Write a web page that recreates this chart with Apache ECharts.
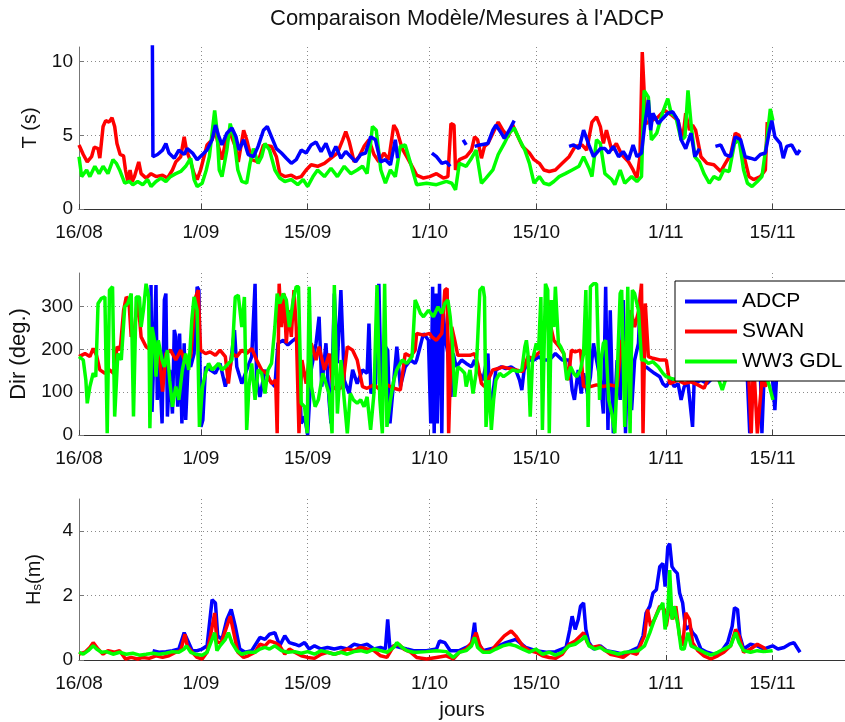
<!DOCTYPE html>
<html><head><meta charset="utf-8">
<script src="https://cdn.jsdelivr.net/npm/echarts@6/dist/echarts.min.js"></script>
<style>html,body{margin:0;padding:0;background:#fff}#c{width:845px;height:722px}</style>
</head><body><div id="c"></div>
<script>
// x = days since 16/08
const dayTicks = [0, 16, 30, 46, 60, 77, 91];
const dayLabels = ['16/08', '1/09', '15/09', '1/10', '15/10', '1/11', '15/11'];
const tTicks = [0, 5, 10];
const dirTicks = [0, 100, 200, 300];
const hsTicks = [0, 2, 4];
const seriesNames = ['ADCP', 'SWAN', 'WW3 GDL'];

// ---- Period T (s)
const tSWAN = [[0,4.35],[0.56,3.7],[1.08,3.2],[1.65,3.55],[2.0,4.2],[2.5,4.1],[2.73,3.45],[3.16,5.6],[3.5,6.0],[3.94,5.9],[4.33,6.2],[4.68,5.6],[4.98,4.45],[5.4,3.7],[5.85,3.6],[6.1,2.65],[6.4,1.87],[6.7,2.65],[6.98,1.87],[7.28,2.2],[7.84,3.2],[8.15,2.4],[8.8,2.1],[9.45,2.4],[10.1,2.2],[10.96,2.3],[11.6,2.1],[12.26,2.65],[12.7,3.2],[13.35,3.55],[13.8,4.9],[14.1,4.0],[14.65,3.2],[15.1,2.4],[15.5,2.0],[15.95,2.65],[16.4,3.55],[16.8,4.35],[17.46,4.7],[17.9,5.35],[18.3,4.25],[18.76,3.35],[19.28,4.7],[19.84,5.15],[20.5,4.25],[20.9,3.2],[21.6,5.35],[22.0,4.7],[22.66,3.35],[23.5,3.2],[24.2,4.35],[25.26,4.25],[25.9,3.55],[26.34,2.4],[27.0,2.2],[27.86,2.3],[28.5,2.1],[29.16,2.2],[29.8,2.65],[30.46,3.0],[31.3,2.9],[32.2,3.1],[33.06,3.45],[33.9,3.8],[34.6,4.7],[35.0,5.25],[35.44,4.6],[36.1,3.2],[36.74,3.55],[37.4,4.25],[38.04,4.7],[38.7,3.7],[39.34,3.2],[40.0,3.8],[40.64,3.35],[41.3,5.7],[41.7,5.35],[42.4,4.1],[43.0,3.55],[43.7,2.9],[44.3,2.3],[45.2,2.1],[46.0,2.2],[46.9,2.4],[47.8,2.1],[48.4,2.2],[48.8,5.8],[49.2,5.7],[49.4,2.65],[49.9,3.35],[50.8,3.55],[51.5,4.0],[51.9,4.9],[52.3,4.7],[52.8,3.45],[53.2,4.25],[53.65,4.45],[54.3,5.15],[55.0,5.9],[55.6,5.35],[56.3,4.9],[56.9,5.7],[57.6,4.9],[58.2,4.25],[59.1,3.8],[59.7,3.35],[60.4,3.1],[61.0,2.65],[61.7,2.55],[62.5,2.65],[63.4,3.1],[64.3,3.55],[65.1,4.25],[66.0,4.35],[66.6,4.0],[67.3,5.9],[67.9,6.25],[68.4,5.6],[68.8,4.45],[69.2,5.35],[69.9,4.0],[70.5,4.45],[71.2,3.7],[72.1,3.2],[72.7,2.65],[73.2,2.1],[73.6,3.55],[73.9,10.65],[74.14,8.05],[74.4,5.8],[75.1,6.0],[76.0,6.25],[76.8,6.7],[77.7,6.4],[78.6,6.0],[79.2,4.7],[79.6,6.5],[80.1,5.35],[80.5,5.7],[80.9,5.35],[81.6,3.55],[82.4,3.1],[83.3,3.0],[84.2,2.55],[84.8,3.1],[85.5,3.7],[86.1,5.15],[86.6,5.0],[87.2,3.7],[87.9,2.2],[88.5,2.0],[89.4,2.2],[90.05,2.65],[90.3,5.9]];
const tWW3 = [[0,3.55],[0.35,2.2],[1.0,2.65],[1.43,2.2],[2.08,2.9],[2.64,2.4],[3.16,2.9],[3.8,2.4],[4.46,3.35],[4.9,3.1],[5.33,2.65],[6.0,1.75],[6.63,1.87],[7.06,1.65],[7.7,1.87],[8.36,1.65],[9.0,2.0],[9.45,1.53],[10.1,1.87],[10.75,2.1],[11.4,1.87],[12.0,2.2],[12.7,2.4],[13.35,2.55],[14.0,2.9],[14.65,3.45],[15.1,2.0],[15.5,1.53],[16.16,1.75],[16.7,2.65],[17.1,3.55],[17.8,6.7],[18.1,5.35],[18.4,2.65],[18.76,2.2],[19.4,4.0],[19.84,5.8],[20.3,4.9],[20.84,2.65],[21.36,1.87],[22.0,1.75],[22.44,3.1],[22.88,4.1],[23.5,3.1],[23.96,3.55],[24.4,4.45],[25.0,4.0],[25.7,2.65],[26.34,2.1],[27.0,1.87],[27.86,2.0],[28.7,1.65],[29.4,2.0],[30.0,1.53],[30.7,2.2],[31.3,2.65],[32.2,2.2],[33.06,2.77],[33.9,2.2],[34.8,2.9],[35.66,2.4],[36.5,2.65],[37.2,2.9],[37.8,2.4],[38.5,5.6],[39.0,5.35],[39.6,2.65],[40.2,1.75],[40.86,2.65],[41.5,2.2],[42.16,4.25],[42.8,4.35],[43.5,3.1],[44.3,1.65],[45.6,1.75],[46.9,1.65],[48.2,1.87],[48.9,1.75],[49.4,1.3],[49.9,3.1],[50.8,2.9],[51.5,3.45],[52.1,4.0],[52.8,1.75],[53.4,2.1],[54.3,2.65],[55.0,3.7],[55.8,4.45],[56.45,5.15],[57.1,5.5],[57.8,4.7],[58.5,4.0],[59.1,3.1],[59.7,1.75],[60.4,2.2],[61.0,1.75],[61.7,1.65],[62.3,1.87],[63.0,2.2],[63.8,2.4],[64.7,2.65],[65.6,2.9],[66.2,3.55],[66.9,2.77],[67.3,2.2],[67.9,4.7],[68.4,4.45],[69.0,2.4],[69.9,2.0],[70.3,1.65],[71.0,2.65],[71.6,1.75],[72.5,2.2],[73.2,1.87],[73.8,2.2],[74.14,8.05],[74.7,7.6],[75.1,4.7],[75.8,5.15],[76.6,6.6],[77.25,7.5],[77.7,6.5],[78.3,6.25],[79.0,4.7],[79.5,4.9],[79.9,8.05],[80.3,5.8],[80.8,3.55],[81.4,3.2],[82.0,2.4],[82.7,1.75],[83.3,2.2],[84.0,2.0],[84.6,2.65],[85.3,2.55],[86.0,4.45],[86.6,4.7],[87.2,2.65],[87.7,1.75],[88.3,1.53],[89.0,1.87],[89.6,2.2],[90.2,4.45],[90.7,6.8],[91.05,6.0]];
const tADCP = [[9.62,12],[9.7,3.55],[10.3,3.7],[10.96,4.0],[11.4,4.45],[11.8,3.8],[12.5,3.45],[13.1,4.0],[13.8,3.7],[14.2,4.1],[14.9,3.8],[15.5,3.35],[16.2,3.7],[16.8,4.0],[17.46,4.7],[17.9,5.7],[18.3,5.0],[18.76,4.35],[19.4,5.15],[20.06,5.5],[20.6,4.9],[21.0,4.0],[21.6,4.7],[22.2,3.7],[22.9,3.55],[23.5,4.25],[24.2,5.35],[24.7,5.6],[25.26,4.9],[25.9,4.1],[26.56,3.8],[27.2,3.45],[27.86,3.1],[28.5,3.35],[29.16,4.0],[29.8,3.8],[30.46,4.35],[31.1,4.55],[31.76,3.9],[32.4,4.45],[33.06,3.55],[33.7,4.25],[34.36,3.45],[35.0,3.9],[35.66,3.55],[36.3,3.2],[36.96,3.7],[37.6,3.8],[38.26,4.9],[38.9,4.7],[39.56,3.2],[40.2,3.35],[40.86,3.0],[41.5,4.7],[41.8,3.45],[42.0,null],[46.3,3.8],[46.9,3.55],[47.6,3.1],[48.2,3.2],[48.7,2.9],[49.0,null],[50.4,4.7],[50.8,4.35],[51.2,null],[51.9,4.25],[52.6,4.35],[53.65,4.45],[54.3,5.35],[54.7,5.7],[55.4,5.15],[55.8,4.8],[56.45,5.35],[57.1,6.0],[57.4,null],[64.3,4.25],[64.9,4.35],[65.6,4.1],[66.2,5.35],[66.9,4.35],[67.5,3.55],[68.4,4.1],[69.0,4.1],[69.5,3.8],[70.1,4.25],[70.8,3.55],[71.4,3.9],[72.1,3.35],[72.7,4.35],[73.2,3.55],[73.8,3.8],[74.2,5.6],[74.7,7.4],[75.0,5.35],[75.3,6.5],[76.0,5.8],[76.6,6.15],[77.25,6.5],[77.9,6.6],[78.6,6.0],[79.0,4.7],[79.6,4.1],[80.3,5.15],[80.8,3.55],[81.4,4.1],[81.8,null],[83.5,4.25],[84.2,4.35],[84.8,3.7],[85.5,3.55],[86.1,4.9],[86.8,4.7],[87.4,3.55],[88.1,3.45],[88.7,3.35],[89.4,3.7],[90.05,3.8],[90.6,5.35],[90.9,6.0],[91.3,4.9],[92.0,4.45],[92.4,3.45],[92.85,4.25],[93.5,4.35],[94.2,3.7],[94.6,4.0]];

// ---- Direction (deg.)
const dirWW3 = [[0,183],[0.56,175],[0.9,128],[1.08,74],[1.43,113],[1.86,144],[2.2,136],[2.5,307],[2.95,319],[3.4,322],[3.7,4],[4.0,338],[4.4,346],[4.68,43],[5.1,190],[5.55,175],[6.0,299],[6.4,307],[6.85,330],[7.15,43],[7.5,322],[7.93,322],[8.15,252],[8.45,291],[8.8,353],[9.14,322],[9.3,16],[9.58,252],[9.9,221],[10.1,136],[10.4,221],[10.9,175],[11.2,159],[11.6,198],[11.9,128],[12.26,66],[12.7,113],[13.1,82],[13.56,152],[14.0,190],[14.4,152],[14.8,268],[15.1,322],[15.5,291],[15.8,19],[16.2,113],[16.6,144],[17.0,167],[17.46,152],[17.9,159],[18.3,167],[18.76,152],[19.2,159],[19.6,167],[20.06,175],[20.5,322],[20.9,326],[21.36,252],[21.7,322],[22.0,12],[22.3,113],[22.66,167],[23.1,82],[23.5,152],[23.96,144],[24.4,97],[24.8,152],[25.26,167],[25.7,252],[26.0,330],[26.34,307],[26.8,330],[27.2,315],[27.6,252],[28.1,315],[28.5,346],[28.8,346],[29.16,74],[29.6,66],[29.94,4],[30.2,346],[30.5,113],[30.98,66],[31.4,82],[31.98,144],[32.4,120],[32.8,97],[33.2,4],[33.5,350],[33.9,50],[34.36,175],[34.8,82],[35.2,4],[35.6,97],[36.0,82],[36.5,74],[36.96,82],[37.4,66],[37.8,89],[38.26,12],[38.7,97],[39.1,350],[39.47,82],[39.8,4],[40.1,353],[40.4,19],[40.86,82],[41.3,128],[41.7,152],[42.4,175],[43.0,167],[43.7,183],[44.1,315],[44.3,307],[44.8,284],[45.2,276],[45.85,291],[46.5,276],[47.1,299],[47.6,284],[48.0,307],[48.4,315],[48.7,276],[49.0,214],[49.3,89],[49.7,159],[50.2,152],[50.6,144],[50.8,113],[51.3,152],[51.7,97],[52.1,144],[52.6,338],[53.0,346],[53.2,322],[53.4,19],[53.8,128],[54.1,12],[54.4,82],[54.7,128],[55.2,144],[55.7,136],[56.3,144],[56.9,152],[57.6,148],[58.1,152],[58.5,206],[58.7,221],[58.9,190],[59.2,43],[59.5,175],[60.0,214],[60.3,198],[60.6,322],[60.8,12],[61.2,353],[61.5,338],[61.7,4],[62.0,315],[62.3,252],[62.5,346],[62.9,214],[63.2,206],[63.6,190],[64.0,128],[64.5,159],[64.9,144],[65.3,136],[65.8,152],[66.2,190],[66.5,338],[66.8,19],[67.1,346],[67.5,353],[67.9,353],[68.3,82],[68.5,175],[68.8,214],[69.1,221],[69.5,82],[69.9,50],[70.3,4],[70.6,136],[71.0,330],[71.2,338],[71.6,19],[72.0,346],[72.3,4],[72.6,338],[72.9,330],[73.4,291],[73.8,175],[74.2,175],[74.7,167],[75.3,171],[76.0,159],[76.6,144],[77.05,136],[77.7,132],[78.6,128],[79.4,136],[80.3,144],[81.2,152],[82.0,152],[82.9,144],[83.8,136],[84.4,105],[84.8,128],[85.7,152],[86.6,159],[87.4,152],[88.3,144],[89.2,152],[90.05,144],[90.6,113],[91.05,82]];
const dirSWAN = [[0,183],[0.78,190],[1.43,183],[1.86,202],[2.3,186],[2.73,152],[3.4,144],[4.0,152],[4.55,144],[5.0,206],[5.4,198],[5.85,291],[6.2,322],[6.54,315],[6.85,229],[7.28,245],[7.7,322],[8.15,229],[8.8,206],[9.45,198],[10.1,214],[10.6,175],[10.96,101],[11.4,190],[12.0,198],[12.7,175],[13.35,198],[14.0,167],[14.65,183],[15.3,322],[15.64,338],[15.95,198],[16.6,190],[17.2,194],[17.9,186],[18.5,198],[19.2,183],[19.6,120],[20.06,190],[20.7,183],[21.36,198],[22.0,190],[22.66,202],[23.3,175],[23.96,152],[24.6,144],[25.26,120],[25.8,128],[26.0,4],[26.26,353],[26.56,252],[26.9,330],[27.2,214],[27.5,291],[27.86,229],[28.2,338],[28.5,252],[28.86,4],[29.25,175],[29.8,120],[30.46,214],[31.1,175],[31.5,206],[32.2,152],[32.84,190],[33.3,113],[33.9,105],[34.6,113],[35.2,206],[35.9,198],[36.5,175],[37.2,113],[37.8,109],[38.7,117],[39.56,105],[40.4,117],[41.3,109],[42.16,105],[42.8,190],[43.5,183],[44.1,198],[44.3,237],[45.2,233],[46.0,237],[46.3,229],[46.9,221],[47.6,237],[48.0,338],[48.3,342],[48.5,4],[48.9,252],[49.3,221],[49.7,186],[50.4,186],[51.3,186],[51.9,190],[52.3,167],[52.8,120],[53.2,113],[53.65,128],[54.3,152],[55.0,155],[55.6,159],[56.45,155],[57.3,152],[58.2,148],[58.9,183],[59.5,179],[60.2,190],[60.8,198],[61.5,315],[61.9,252],[62.3,221],[63.0,206],[63.6,190],[64.2,128],[64.6,198],[65.1,194],[65.8,198],[66.2,113],[67.1,113],[67.9,117],[68.8,113],[69.7,117],[70.6,113],[71.2,221],[71.9,206],[72.4,291],[72.9,252],[73.45,291],[73.8,353],[74.0,4],[74.3,307],[74.7,183],[75.3,179],[76.2,175],[77.05,175],[77.5,120],[78.6,128],[79.4,120],[80.3,124],[81.2,117],[82.0,109],[82.9,144],[84.2,152],[85.5,152],[86.8,144],[87.9,128],[88.2,4],[88.5,175],[89.0,4],[89.6,128],[90.05,113],[90.4,136]];
const dirADCP = [[9.45,350],[9.58,54],[9.8,175],[10.1,350],[10.27,82],[10.53,175],[10.9,27],[11.2,315],[11.4,330],[11.6,43],[11.9,152],[12.26,50],[12.5,245],[12.7,229],[12.95,66],[13.2,237],[13.5,27],[13.8,214],[14.0,35],[14.34,175],[14.65,159],[15.1,190],[15.5,346],[15.73,338],[16.0,19],[16.25,35],[16.6,159],[17.2,152],[17.9,144],[18.5,167],[19.2,113],[19.84,159],[20.4,245],[20.7,159],[21.36,120],[22.0,152],[22.66,183],[23.1,353],[23.3,128],[23.74,89],[24.4,152],[25.0,128],[25.7,113],[26.1,214],[26.8,221],[27.4,210],[28.1,221],[28.7,229],[29.16,27],[29.6,43],[30.0,0],[30.46,152],[31.1,214],[31.5,276],[31.85,113],[32.4,214],[32.8,82],[33.06,27],[33.5,330],[33.9,167],[34.36,338],[34.8,128],[35.44,97],[35.9,152],[36.5,120],[37.2,152],[37.8,144],[38.04,260],[38.3,97],[38.9,120],[39.34,353],[39.65,97],[40.2,206],[40.5,198],[40.8,27],[41.3,128],[41.7,206],[42.16,113],[42.8,159],[43.5,175],[44.1,167],[44.3,175],[45.2,237],[45.85,221],[46.15,27],[46.4,346],[46.6,4],[46.85,330],[47.0,27],[47.3,353],[47.6,4],[47.8,284],[48.1,221],[48.4,190],[48.8,89],[49.1,190],[49.5,159],[50.2,175],[50.8,167],[51.5,159],[51.9,175],[52.3,152],[53.0,128],[53.65,190],[53.95,58],[54.3,97],[54.7,152],[55.4,159],[56.0,155],[56.7,159],[57.3,152],[57.8,128],[58.1,105],[58.4,152],[59.1,175],[59.7,175],[60.4,183],[60.8,175],[61.7,175],[62.5,190],[63.4,175],[64.3,175],[64.7,105],[65.0,82],[65.5,152],[65.9,97],[66.2,144],[66.7,97],[67.1,136],[67.5,214],[67.9,175],[68.4,128],[68.8,50],[69.1,346],[69.4,12],[69.7,291],[70.1,4],[70.6,175],[71.0,82],[71.4,315],[71.7,4],[72.1,252],[72.5,58],[72.9,175],[73.4,214],[73.7,338],[74.0,152],[74.4,159],[74.9,152],[75.5,144],[76.2,136],[76.6,120],[77.05,113],[77.6,128],[78.1,113],[78.6,120],[79.0,82],[79.4,113],[79.9,120],[80.5,19],[80.7,120],[81.6,128],[82.4,120],[83.3,136],[84.2,144],[85.1,136],[85.9,144],[86.8,136],[87.7,128],[88.0,4],[88.5,128],[89.4,144],[89.6,4],[89.9,144],[90.5,175],[90.9,152],[91.3,58],[91.5,128]];

// ---- Significant wave height Hs (m)
const hsWW3 = [[0,0.24],[0.56,0.18],[1.2,0.29],[1.86,0.44],[2.3,0.34],[2.95,0.24],[3.6,0.26],[4.46,0.18],[5.33,0.24],[6.2,0.18],[7.06,0.21],[7.93,0.15],[8.8,0.18],[9.66,0.21],[10.5,0.18],[11.4,0.21],[12.26,0.26],[13.1,0.24],[13.8,0.34],[14.1,0.44],[14.65,0.24],[15.3,0.18],[16.16,0.15],[16.8,0.24],[17.46,0.64],[17.8,0.85],[18.1,0.29],[18.5,0.44],[19.2,0.64],[19.6,0.85],[20.06,0.54],[20.7,0.29],[21.36,0.18],[22.2,0.24],[23.1,0.24],[23.74,0.34],[24.4,0.39],[25.0,0.34],[25.7,0.44],[26.56,0.29],[27.4,0.24],[28.3,0.26],[29.16,0.21],[30.0,0.26],[30.9,0.18],[31.76,0.29],[32.6,0.24],[33.5,0.18],[34.36,0.24],[35.2,0.18],[36.1,0.26],[36.96,0.29],[37.8,0.24],[38.7,0.34],[39.56,0.29],[40.4,0.24],[41.3,0.39],[41.7,0.54],[42.4,0.39],[43.0,0.29],[43.9,0.24],[44.3,0.24],[45.6,0.26],[46.9,0.29],[48.2,0.26],[49.1,0.08],[49.9,0.24],[50.8,0.29],[51.5,0.44],[51.9,0.7],[52.3,0.39],[53.0,0.24],[53.9,0.24],[54.7,0.34],[55.6,0.44],[56.45,0.49],[57.3,0.44],[58.2,0.34],[59.1,0.24],[59.95,0.34],[60.8,0.18],[61.7,0.24],[62.5,0.15],[63.4,0.24],[64.3,0.44],[65.1,0.49],[66.0,0.64],[66.4,0.75],[66.9,0.44],[67.7,0.34],[68.4,0.39],[69.0,0.29],[69.9,0.24],[70.8,0.18],[71.6,0.24],[72.5,0.26],[73.4,0.29],[74.2,0.44],[74.9,0.85],[75.5,1.26],[76.2,1.62],[76.6,1.77],[76.9,0.95],[77.25,1.46],[77.5,2.79],[77.8,1.26],[78.1,1.67],[78.6,1.05],[79.0,0.34],[79.4,0.34],[79.9,0.85],[80.3,0.44],[81.2,0.34],[82.0,0.24],[82.9,0.15],[83.8,0.24],[84.6,0.34],[85.5,0.44],[86.15,0.85],[86.6,0.54],[87.2,0.29],[88.1,0.24],[89.0,0.29],[89.8,0.26],[91.0,0.29]];
const hsSWAN = [[0,0.18],[0.78,0.24],[1.43,0.39],[1.86,0.54],[2.5,0.34],[3.16,0.18],[3.8,0.29],[4.68,0.24],[5.33,0.29],[6.1,0.03],[6.85,0.08],[7.7,0.03],[8.36,0.08],[9.2,0.05],[10.1,0.13],[10.96,0.08],[11.8,0.13],[12.7,0.24],[13.35,0.29],[13.9,0.8],[14.2,0.44],[14.86,0.24],[15.5,0.08],[16.16,0.03],[16.8,0.24],[17.25,0.75],[17.8,1.46],[18.1,0.54],[18.67,0.54],[19.4,1.05],[19.84,1.36],[20.3,0.85],[20.84,0.24],[21.6,0.08],[22.2,0.13],[23.1,0.24],[23.74,0.49],[24.4,0.44],[25.0,0.59],[25.7,0.54],[26.34,0.44],[27.0,0.18],[27.6,0.34],[28.3,0.24],[29.16,0.13],[30.0,0.08],[30.9,0.05],[31.76,0.18],[32.6,0.24],[33.5,0.18],[34.36,0.24],[35.2,0.34],[36.1,0.29],[36.96,0.39],[37.8,0.34],[38.7,0.29],[39.56,0.13],[40.4,0.08],[41.3,0.44],[41.95,0.49],[42.6,0.34],[43.5,0.24],[44.3,0.08],[45.6,0.03],[46.9,0.08],[48.2,0.13],[49.1,0.03],[49.9,0.24],[50.8,0.34],[51.5,0.54],[52.1,0.85],[52.6,0.44],[53.2,0.24],[54.1,0.29],[55.0,0.54],[55.8,0.75],[56.7,0.9],[57.3,0.75],[58.2,0.44],[59.1,0.29],[59.95,0.24],[60.8,0.13],[61.7,0.08],[62.5,0.05],[63.4,0.18],[64.3,0.49],[65.1,0.59],[65.8,0.75],[66.2,0.85],[66.7,0.54],[67.3,0.39],[68.2,0.44],[68.8,0.34],[69.7,0.18],[70.6,0.13],[71.4,0.08],[72.3,0.24],[73.2,0.18],[73.8,0.54],[74.2,0.75],[74.6,1.57],[75.0,1.05],[75.5,1.26],[76.2,1.67],[76.8,1.57],[77.05,1.05],[77.5,1.67],[77.9,1.26],[78.3,1.67],[78.8,0.75],[79.2,0.44],[79.6,1.46],[80.1,1.26],[80.5,0.54],[81.2,0.29],[82.0,0.13],[82.9,0.03],[83.8,0.13],[84.6,0.24],[85.5,0.44],[86.15,0.95],[86.6,0.75],[87.2,0.24],[88.1,0.34],[89.0,0.49],[89.8,0.39],[90.3,0.24]];
const hsADCP = [[9.66,0.29],[10.5,0.24],[11.4,0.26],[12.26,0.29],[13.1,0.34],[13.8,0.85],[14.2,0.64],[14.86,0.29],[15.5,0.29],[16.16,0.34],[16.8,0.44],[17.46,1.87],[17.9,1.77],[18.2,0.75],[18.76,0.64],[19.4,1.26],[19.97,1.57],[20.5,1.05],[21.1,0.34],[21.8,0.24],[22.66,0.29],[23.74,0.7],[24.4,0.64],[25.0,0.8],[25.7,0.85],[26.34,0.44],[27.0,0.75],[27.6,0.54],[28.3,0.49],[28.9,0.44],[29.6,0.54],[30.2,0.34],[30.9,0.44],[31.76,0.34],[32.6,0.39],[33.5,0.34],[34.36,0.39],[35.2,0.34],[36.1,0.49],[36.96,0.44],[37.8,0.49],[38.7,0.34],[39.56,0.39],[40.2,0.34],[40.5,1.26],[40.8,0.34],[41.3,0.44],[42.16,0.39],[43.0,0.34],[43.9,0.29],[44.3,0.29],[45.6,0.29],[46.9,0.34],[47.3,0.59],[48.0,0.54],[48.7,0.29],[49.9,0.29],[50.8,0.39],[51.5,0.49],[51.9,1.16],[52.1,0.64],[53.0,0.29],[54.7,0.39],[56.0,0.54],[57.3,0.64],[58.6,0.39],[59.95,0.29],[61.3,0.24],[62.5,0.26],[63.9,0.39],[64.4,0.95],[64.7,1.36],[65.1,0.95],[65.5,1.26],[65.8,1.67],[66.2,1.77],[66.5,0.95],[66.9,0.54],[67.5,0.34],[68.4,0.44],[69.2,0.29],[70.3,0.24],[71.4,0.18],[72.5,0.29],[73.4,0.39],[74.0,0.75],[74.4,1.46],[74.9,1.67],[75.3,2.08],[75.75,2.18],[76.2,2.9],[76.6,3.0],[76.9,2.28],[77.25,3.51],[77.5,3.61],[77.8,2.9],[78.1,2.79],[78.5,2.69],[78.8,2.08],[79.2,1.77],[79.6,0.95],[80.1,1.05],[80.5,0.85],[80.9,0.75],[81.6,0.34],[82.4,0.24],[83.3,0.18],[84.2,0.24],[85.1,0.54],[85.7,1.05],[86.0,1.62],[86.4,1.57],[86.7,0.75],[87.2,0.34],[88.1,0.49],[89.0,0.44],[89.8,0.34],[91.0,0.44],[91.7,0.34],[92.5,0.39],[93.2,0.49],[93.8,0.54],[94.2,0.39],[94.6,0.24]];

const FONT = '"Liberation Sans", Arial, Helvetica, sans-serif';
const COLORS = {'ADCP': '#0000ff', 'SWAN': '#ff0000', 'WW3 GDL': '#00ff00'};
const GRID_DOT = {type: [1, 3], color: '#8a8a8a', width: 1};

function xAx(i) {
  return {
    type: 'value', gridIndex: i, min: 0, max: 100.5,
    axisLine: {show: true, lineStyle: {color: '#333', width: 1}},
    axisTick: {show: true, inside: true, length: 5, customValues: dayTicks, lineStyle: {color: '#444'}},
    axisLabel: {customValues: dayTicks, fontSize: 19, color: '#111', margin: 14, fontFamily: FONT,
      formatter: v => { const k = dayTicks.findIndex(t => Math.abs(t - v) < 1e-6); return k >= 0 ? dayLabels[k] : ''; }},
    splitLine: {show: true, lineStyle: GRID_DOT},
    name: i === 2 ? 'jours' : '', nameLocation: 'middle', nameGap: 40,
    nameTextStyle: {fontSize: 21, color: '#111', fontFamily: FONT}
  };
}
function yAx(i, max, ticks, name, nameGap, nameSize, rich) {
  const o = {
    type: 'value', gridIndex: i, min: 0, max: max,
    axisLine: {show: true, lineStyle: {color: '#777', width: 1}},
    axisTick: {show: true, inside: true, length: 5, customValues: ticks, lineStyle: {color: '#777'}},
    axisLabel: {customValues: ticks, fontSize: 19, color: '#111', margin: 6, fontFamily: FONT},
    splitLine: {show: true, lineStyle: GRID_DOT},
    name: name, nameLocation: 'middle', nameGap: nameGap,
    nameTextStyle: {fontSize: nameSize, color: '#111', fontFamily: FONT}
  };
  if (rich) o.nameTextStyle.rich = rich;
  return o;
}
function line(i, name, data, z) {
  return {
    type: 'line', name: name, xAxisIndex: i, yAxisIndex: i, data: data,
    symbol: 'none', showSymbol: false, connectNulls: false, clip: true,
    lineStyle: {color: COLORS[name], width: 3.5}, itemStyle: {color: COLORS[name]},
    z: z, animation: false, emphasis: {disabled: true}
  };
}

const chart = echarts.init(document.getElementById('c'), null, {renderer: 'canvas'});
chart.setOption({
  animation: false,
  backgroundColor: '#fff',
  title: {text: 'Comparaison Modèle/Mesures à l\'ADCP', left: 270, top: 8, padding: 0,
    textStyle: {fontSize: 22, fontWeight: 'normal', color: '#111', fontFamily: FONT}},
  grid: [
    {left: 79, width: 773, top: 47, height: 162},
    {left: 79, width: 773, top: 273, height: 162},
    {left: 79, width: 773, top: 499, height: 162}
  ],
  xAxis: [xAx(0), xAx(1), xAx(2)],
  yAxis: [
    yAx(0, 11, tTicks, 'T (s)', 34, 20),
    yAx(1, 378, dirTicks, 'Dir (deg.)', 46, 22),
    yAx(2, 5, hsTicks, '{a|H}{b|s}{a|(m)}', 35, 20, {a: {fontSize: 20, color: '#111', fontFamily: FONT}, b: {fontSize: 13, color: '#111', fontFamily: FONT, verticalAlign: 'bottom', lineHeight: 13}})
  ],
  legend: {
    data: seriesNames, orient: 'vertical', left: 675, top: 281,
    padding: [10, 12, 9, 10], itemGap: 9, itemWidth: 52, itemHeight: 4, icon: 'rect',
    borderColor: '#000', borderWidth: 1, backgroundColor: '#fff', borderRadius: 0,
    textStyle: {fontSize: 21, color: '#000', fontFamily: FONT}, selectedMode: false, z: 20
  },
  series: [
    line(0, 'SWAN', tSWAN, 2), line(0, 'WW3 GDL', tWW3, 3), line(0, 'ADCP', tADCP, 4),
    line(1, 'ADCP', dirADCP, 2), line(1, 'SWAN', dirSWAN, 3), line(1, 'WW3 GDL', dirWW3, 4),
    line(2, 'ADCP', hsADCP, 2), line(2, 'SWAN', hsSWAN, 3), line(2, 'WW3 GDL', hsWW3, 4)
  ]
});
</script></body></html>
